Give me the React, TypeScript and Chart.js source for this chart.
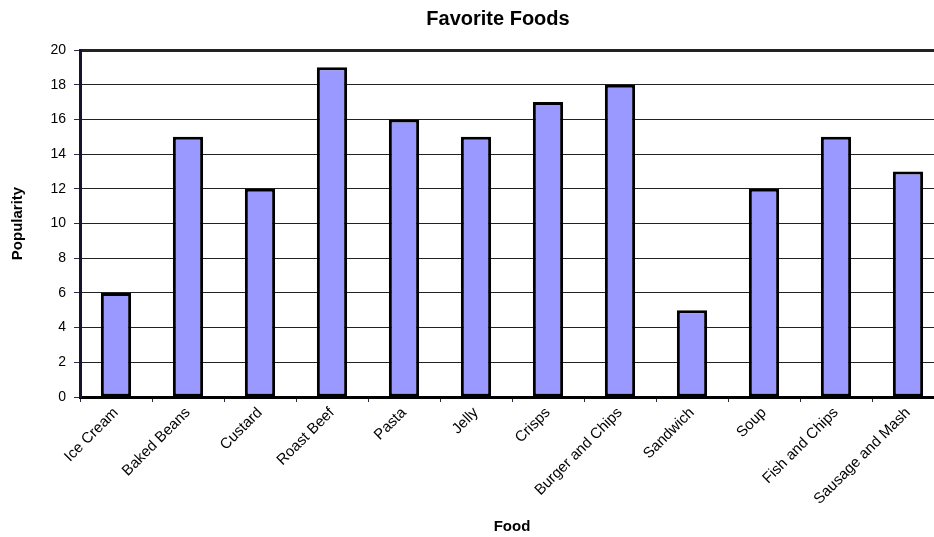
import React, { useEffect, useRef } from "react";
import { Chart, registerables } from "chart.js";

Chart.register(...registerables);

// Chart text
const chartTitle = "Favorite Foods";
const xAxisTitle = "Food";
const yAxisTitle = "Popularity";

// Categories and values
const foods = [
  "Ice Cream",
  "Baked Beans",
  "Custard",
  "Roast Beef",
  "Pasta",
  "Jelly",
  "Crisps",
  "Burger and Chips",
  "Sandwich",
  "Soup",
  "Fish and Chips",
  "Sausage and Mash",
];
const popularity = [6, 15, 12, 19, 16, 15, 17, 18, 5, 12, 15, 13];

// Value axis range
const yMin = 0;
const yMax = 20;
const yStep = 2;

const FONT_FAMILY = "'Liberation Sans', Arial, Helvetica, sans-serif";

// Draws the heading text above the plot area
const headingPlugin = {
  id: "heading",
  afterDraw(chart: any) {
    const { ctx, chartArea } = chart;
    ctx.save();
    ctx.font = `bold 20px ${FONT_FAMILY}`;
    ctx.fillStyle = "#000";
    ctx.textAlign = "center";
    ctx.textBaseline = "alphabetic";
    ctx.fillText(chartTitle, chartArea.left + 418, 25);
    ctx.restore();
  },
};

export default function App() {
  const canvasRef = useRef<HTMLCanvasElement | null>(null);

  useEffect(() => {
    const canvas = canvasRef.current;
    if (!canvas) return;
    const chart = new Chart(canvas, {
      type: "bar",
      data: {
        labels: foods,
        datasets: [
          {
            label: yAxisTitle,
            data: popularity,
            backgroundColor: "#9999FF",
            borderColor: "#000000",
            borderWidth: 3,
            borderSkipped: false,
            barPercentage: 0.42,
            categoryPercentage: 1,
          },
        ],
      },
      options: {
        animation: false,
        responsive: false,
        devicePixelRatio: 1,
        layout: { padding: { top: 50, right: 16, left: 0, bottom: 0 } },
        plugins: {
          legend: { display: false },
          tooltip: { enabled: false },
          title: { display: false },
        },
        scales: {
          x: {
            grid: {
              offset: true,
              drawOnChartArea: false,
              drawTicks: true,
              tickLength: 5,
              tickColor: "#2a2a4a",
              tickWidth: 1,
            },
            border: { display: true, color: "#000000", width: 3 },
            ticks: {
              minRotation: 45,
              maxRotation: 45,
              autoSkip: false,
              color: "#000",
              padding: 2,
              font: { family: FONT_FAMILY, size: 15 },
            },
            title: {
              display: true,
              text: xAxisTitle,
              color: "#000",
              font: { family: FONT_FAMILY, size: 15, weight: "bold" },
              padding: { top: 1.5, bottom: 1.5 },
            },
            afterFit: (scale: any) => {
              scale.height = 140;
            },
          },
          y: {
            min: yMin,
            max: yMax,
            ticks: {
              stepSize: yStep,
              color: "#000",
              padding: 8,
              font: { family: FONT_FAMILY, size: 14 },
            },
            grid: {
              color: "#222222",
              lineWidth: (c: any) => (c.tick && c.tick.value === yMax ? 3 : 1),
              tickLength: 6,
              tickColor: "#2a2a4a",
              tickWidth: 1,
            },
            border: { display: true, color: "#14142b", width: 3 },
            title: {
              display: true,
              text: yAxisTitle,
              color: "#000",
              font: { family: FONT_FAMILY, size: 15, weight: "bold" },
              padding: { top: 8.5, bottom: 0 },
            },
            afterFit: (scale: any) => {
              scale.width = 80;
            },
          },
        },
      },
      plugins: [headingPlugin],
    });
    return () => chart.destroy();
  }, []);

  return (
    <div
      style={{
        position: "fixed",
        left: 0,
        top: 0,
        width: 934,
        height: 537,
        overflow: "hidden",
        background: "#ffffff",
      }}
    >
      <canvas ref={canvasRef} width={960} height={537} style={{ display: "block" }} />
    </div>
  );
}
